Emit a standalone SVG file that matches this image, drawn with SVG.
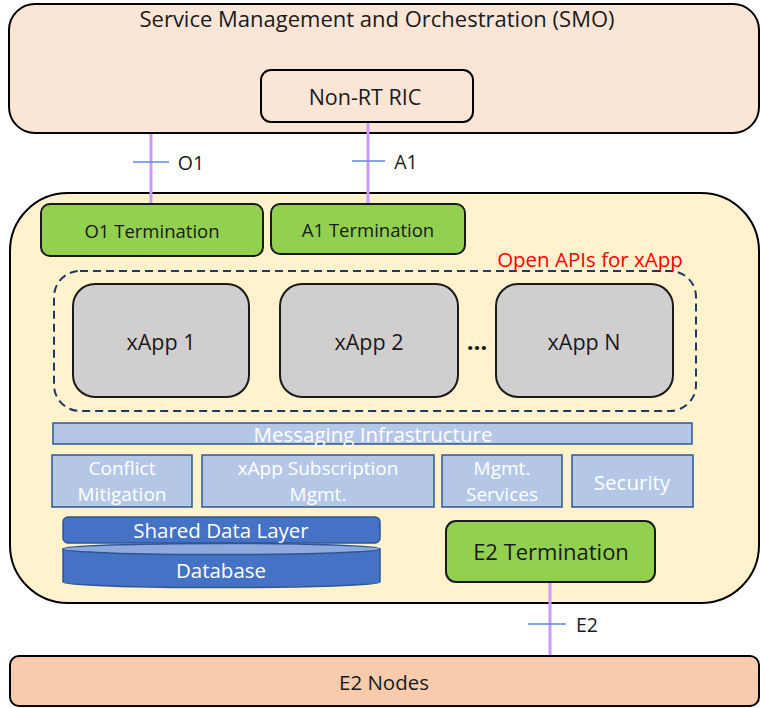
<svg xmlns="http://www.w3.org/2000/svg" width="760" height="708" viewBox="0 0 760 708">
<style>
text{font-family:"Open Sans","Noto Sans","DejaVu Sans",sans-serif;text-anchor:middle;dominant-baseline:central;}
.blk{stroke:#000;stroke-width:2;}
.green{fill:#92D050;stroke:#1a1a1a;stroke-width:2;}
.gray{fill:#D0CECE;stroke:#1a1a1a;stroke-width:2;}
.svc{fill:#B4C7E7;stroke:#2F5597;stroke-width:1.5;}
.wt{fill:#fff;font-size:20.5px;}
.w2{fill:#fff;font-size:19px;}
.dk{fill:#1a1a1a;}
.iface{stroke:#CC99FF;stroke-width:3;fill:none;}
.tick{stroke:#5B8BD9;stroke-width:1.5;fill:none;}
</style>
<g id="smo">
<rect x="9" y="4" width="750" height="129" rx="26" fill="#FBE5D6" class="blk"/>
<text x="377" y="18" class="dk" font-size="22">Service Management and Orchestration (SMO)</text>
</g>
<g id="nonrt-ric">
<rect x="261" y="70" width="212" height="52" rx="10" fill="#FBE5D6" class="blk"/>
<text x="365" y="96" class="dk" font-size="21.5">Non-RT RIC</text>
</g>
<g id="near-rt-ric">
<rect x="10" y="193" width="749" height="410" rx="58" fill="#FFF2CC" class="blk"/>
</g>
<g id="connectors">
<line x1="151" y1="134" x2="151" y2="204" class="iface"/>
<line x1="133" y1="162" x2="169" y2="162" class="tick"/>
<text x="191" y="162" class="dk" font-size="19.5">O1</text>
<line x1="368" y1="123" x2="368" y2="204" class="iface"/>
<line x1="352" y1="161" x2="385" y2="161" class="tick"/>
<text x="406" y="161" class="dk" font-size="19.5">A1</text>
<line x1="550" y1="583" x2="550" y2="656" class="iface"/>
<line x1="528" y1="624" x2="566" y2="624" class="tick"/>
<text x="587" y="624" class="dk" font-size="19.5">E2</text>
</g>
<g id="o1-termination">
<rect x="41" y="204" width="222" height="52" rx="9" class="green"/>
<text x="152" y="230" class="dk" font-size="18.5">O1 Termination</text>
</g>
<g id="a1-termination">
<rect x="271" y="204" width="194" height="50" rx="9" class="green"/>
<text x="368" y="229" class="dk" font-size="18.5">A1 Termination</text>
</g>
<g id="open-apis">
<rect x="54" y="271" width="642" height="140" rx="26" fill="none" stroke="#1F3864" stroke-width="2" stroke-dasharray="8,5"/>
<text x="590" y="259" fill="#FF0000" font-size="20.5">Open APIs for xApp</text>
</g>
<g id="xapp-1">
<rect x="73" y="284" width="176" height="113" rx="22" class="gray"/>
<text x="161" y="341" class="dk" font-size="21.5">xApp 1</text>
</g>
<g id="xapp-2">
<rect x="280" y="284" width="178" height="113" rx="22" class="gray"/>
<text x="369" y="341" class="dk" font-size="21.5">xApp 2</text>
</g>
<text x="477" y="340" class="dk" font-size="24" font-weight="bold">…</text>
<g id="xapp-n">
<rect x="496" y="284" width="177" height="113" rx="22" class="gray"/>
<text x="584" y="341" class="dk" font-size="21.5">xApp N</text>
</g>
<g id="messaging">
<rect x="53" y="423" width="639" height="21" class="svc"/>
<text x="373" y="434" class="wt">Messaging Infrastructure</text>
</g>
<g id="conflict-mitigation">
<rect x="52" y="455" width="140" height="52" class="svc"/>
<text x="122" y="468" class="w2">Conflict</text>
<text x="122" y="494" class="w2">Mitigation</text>
</g>
<g id="xapp-subscription">
<rect x="202" y="455" width="232" height="52" class="svc"/>
<text x="318" y="468" class="w2">xApp Subscription</text>
<text x="318" y="494" class="w2">Mgmt.</text>
</g>
<g id="mgmt-services">
<rect x="442" y="455" width="120" height="52" class="svc"/>
<text x="502" y="468" class="w2">Mgmt.</text>
<text x="502" y="494" class="w2">Services</text>
</g>
<g id="security">
<rect x="572" y="455" width="121" height="52" class="svc"/>
<text x="632" y="482" class="wt">Security</text>
</g>
<g id="shared-data-layer">
<rect x="63" y="517" width="317" height="26" rx="5" fill="#4472C4" stroke="#2F5597" stroke-width="1.5"/>
<text x="221" y="530" class="wt">Shared Data Layer</text>
</g>
<g id="database">
<path d="M63,549 L63,582 A158.5,5.5 0 0 0 380,582 L380,549 Z" fill="#4472C4" stroke="#2F5597" stroke-width="1.5"/>
<ellipse cx="221.5" cy="549" rx="158.5" ry="5.5" fill="#8FAADC" stroke="#2F5597" stroke-width="1.5"/>
<text x="221" y="570" class="wt" font-size="21">Database</text>
</g>
<g id="e2-termination">
<rect x="446" y="521" width="209" height="61" rx="10" class="green"/>
<text x="551" y="551" class="dk" font-size="22">E2 Termination</text>
</g>
<g id="e2-nodes">
<rect x="10" y="656" width="749" height="50" rx="9" fill="#F8CBAD" class="blk"/>
<text x="384" y="682" class="dk" font-size="20.5">E2 Nodes</text>
</g>
</svg>
